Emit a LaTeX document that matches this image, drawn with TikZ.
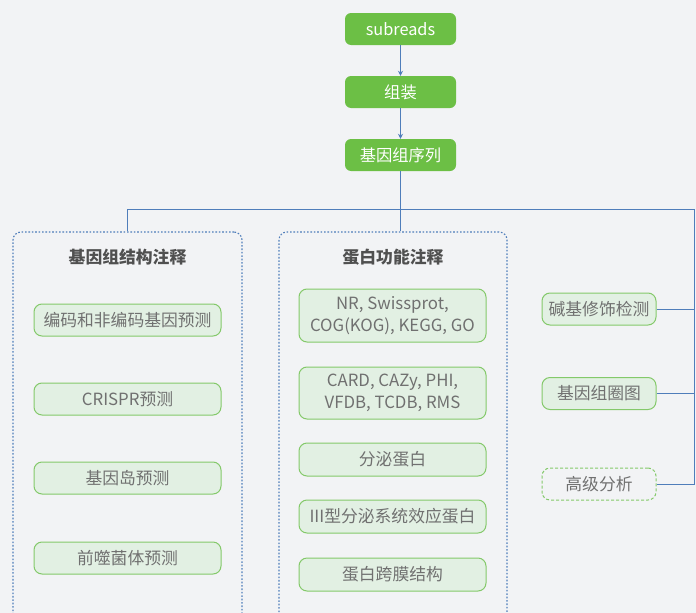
\documentclass[tikz,border=0pt]{standalone}
\usepackage{fontspec}
\setmainfont{Noto Sans CJK SC}
\usetikzlibrary{arrows.meta}
\definecolor{bg}{HTML}{F2F3F5}
\definecolor{topgreen}{HTML}{6CBF45}
\definecolor{lightfill}{HTML}{E2F0E3}
\definecolor{lightborder}{HTML}{84C96A}
\definecolor{linkblue}{HTML}{4F7DBA}
\definecolor{txtgray}{HTML}{707070}
\definecolor{titlegray}{HTML}{505050}
\begin{document}
\begin{tikzpicture}[x=1pt,y=-1pt,
  topbox/.style={fill=topgreen, draw=none, rounded corners=6pt, minimum width=111pt, minimum height=32pt, text=white, font=\fontsize{16.3}{19}\selectfont, inner sep=0pt},
  leafbox/.style={fill=lightfill, draw=lightborder, line width=1pt, rounded corners=8pt, text=txtgray, font=\fontsize{16.8}{22}\selectfont, inner sep=0pt, align=center, minimum height=32pt},
  lbox/.style={leafbox, minimum width=187pt},
  rbox/.style={leafbox, minimum width=114pt},
  advbox/.style={rbox, fill=bg, dash pattern=on 3pt off 2pt},
  container/.style={draw=linkblue, line width=1.1pt, dash pattern=on 1.6pt off 1.8pt, rounded corners=8pt, inner sep=0pt},
  ctitle/.style={text=titlegray, font=\fontsize{16.8}{19}\selectfont\bfseries},
  link/.style={draw=linkblue, line width=1pt},
  arr/.style={link, -{Stealth[length=5pt,width=5pt]}}
]
\useasboundingbox (0,0) rectangle (696,613);
\clip (0,0) rectangle (696,613);
\fill[bg] (0,0) rectangle (696,613);

% top chain
\node[topbox] (sub) at (400.5,29) {subreads};
\node[topbox] (asm) at (400.5,92) {组装};
\node[topbox] (seq) at (400.5,155) {基因组序列};
\draw[arr] (sub) -- (asm);
\draw[arr] (asm) -- (seq);

% containers
\node[container, minimum width=229pt, minimum height=420pt] (lc) at (127.5,442) {};
\node[container, minimum width=228pt, minimum height=420pt] (mc) at (393,442) {};
\node[ctitle] (lt) at (127.5,257) {基因组结构注释};
\node[ctitle] (mt) at (393,257) {蛋白功能注释};

% left leaves
\node[lbox] (l1) at (127.5,320) {编码和非编码基因预测};
\node[lbox] (l2) at (127.5,399) {CRISPR预测};
\node[lbox] (l3) at (127.5,478) {基因岛预测};
\node[lbox] (l4) at (127.5,558) {前噬菌体预测};

% middle leaves
\node[lbox, minimum height=53pt] (m1) at (392.5,315.5) {NR, Swissprot,\\COG(KOG), KEGG, GO};
\node[lbox, minimum height=52pt] (m2) at (392.5,393) {CARD, CAZy, PHI,\\VFDB, TCDB, RMS};
\node[lbox, minimum height=33pt] (m3) at (392.5,459.5) {分泌蛋白};
\node[lbox, minimum height=33pt] (m4) at (392.5,516.5) {III型分泌系统效应蛋白};
\node[lbox, minimum height=33pt] (m5) at (392.5,574.5) {蛋白跨膜结构};

% right leaves
\node[rbox] (r1) at (599,309) {碱基修饰检测};
\node[rbox] (r2) at (599,393.5) {基因组圈图};
\node[advbox] (r3) at (599,484) {高级分析};

% connectors
\coordinate (rc) at (694,209);
\draw[link] (seq.south) -- (seq.south |- mc.north);
\draw[link] (lc.north) |- (rc);
\draw[link] (rc) |- (r3.east);
\draw[link] (r1.east) -- (r1.east -| rc);
\draw[link] (r2.east) -- (r2.east -| rc);
\end{tikzpicture}
\end{document}
